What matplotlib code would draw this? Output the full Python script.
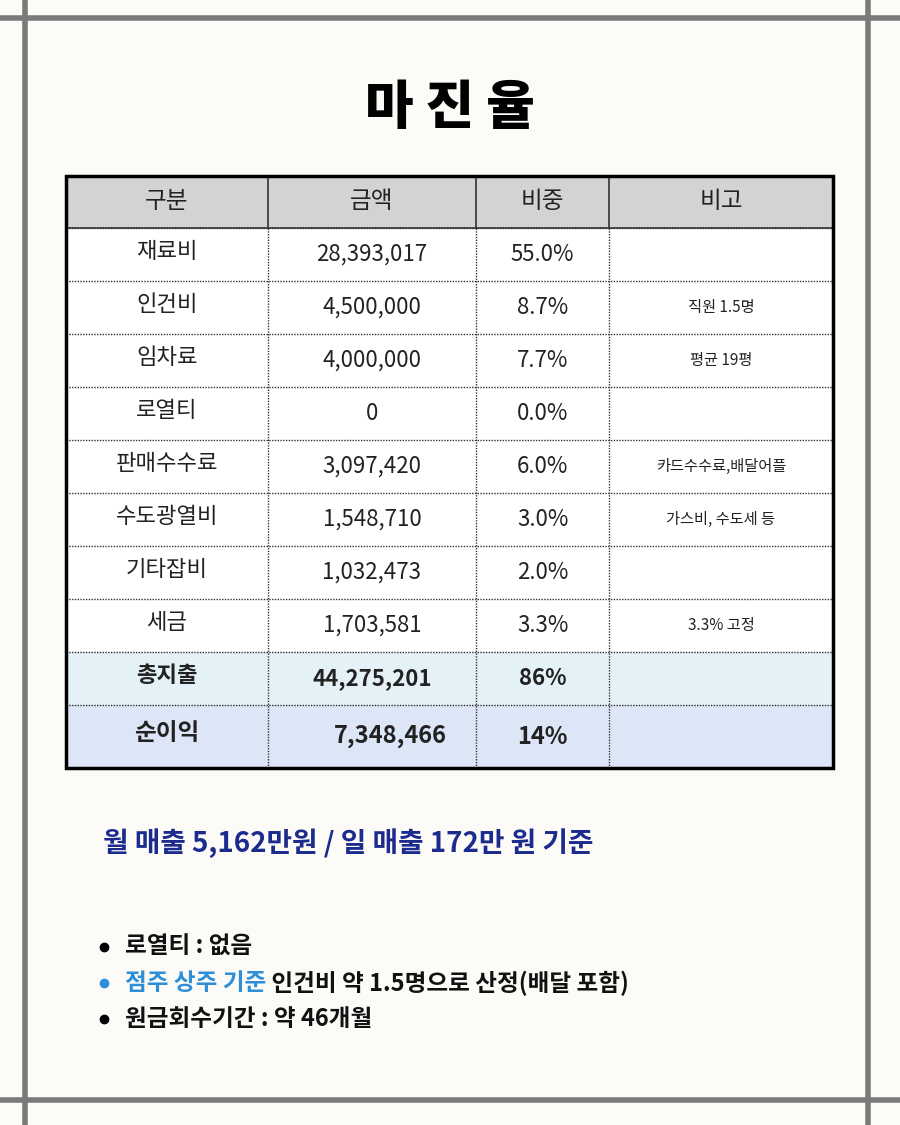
import matplotlib
matplotlib.use("Agg")
import matplotlib.pyplot as plt
from matplotlib.patches import Rectangle
from matplotlib import font_manager

names = {f.name for f in font_manager.fontManager.ttflist}
cands = ["Noto Sans CJK KR", "Noto Sans CJK JP", "Noto Sans CJK SC", "Noto Sans CJK TC"]
fams = [c for c in cands if c in names] + ["DejaVu Sans"]
plt.rcParams["font.family"] = fams

title = "마 진 율"
headers = ["구분", "금액", "비중", "비고"]
categories = ["재료비", "인건비", "임차료", "로열티", "판매수수료", "수도광열비", "기타잡비", "세금", "총지출", "순이익"]
amounts = ["28,393,017", "4,500,000", "4,000,000", "0", "3,097,420", "1,548,710", "1,032,473", "1,703,581", "44,275,201", "7,348,466"]
ratios = ["55.0%", "8.7%", "7.7%", "0.0%", "6.0%", "3.0%", "2.0%", "3.3%", "86%", "14%"]
notes = ["", "직원 1.5명", "평균 19평", "", "카드수수료,배달어플", "가스비, 수도세 등", "", "3.3% 고정", "", ""]
subtitle = "월 매출 5,162만원 / 일 매출 172만 원 기준"
bullets = [("로열티 : 없음", ""), ("점주 상주 기준", " 인건비 약 1.5명으로 산정(배달 포함)"), ("원금회수기간 : 약 46개월", "")]

BG = "#FDFBF7"
fig = plt.figure(figsize=(9, 11.25), dpi=100, facecolor=BG)
ax = fig.add_axes([0, 0, 1, 1])
ax.set_xlim(0, 900); ax.set_ylim(1125, 0); ax.axis("off")
ax.set_facecolor(BG)

for x in (25, 868):
    ax.plot([x, x], [0, 1125], color="#7a7a7a", lw=4)
for y in (18, 1100):
    ax.plot([0, 900], [y, y], color="#7a7a7a", lw=4)

ax.text(450, 108, title, ha="center", va="center", fontsize=38, fontweight="black", color="black")

colx = [66, 268, 476, 609, 833]
rowy = [176, 228] + [228 + 53 * i for i in range(1, 10)] + [768]
fills = ["#D3D3D3"] + ["white"] * 8 + ["#E4F2F8", "#DDE6F6"]
for i in range(len(rowy) - 1):
    ax.add_patch(Rectangle((colx[0], rowy[i]), colx[-1] - colx[0], rowy[i + 1] - rowy[i],
                           facecolor=fills[i], edgecolor="none", zorder=1))
for y in rowy[1:-1]:
    ax.plot([colx[0], colx[-1]], [y, y], color="#333", lw=1, ls=(0, (1, 1)), zorder=2)
ax.plot([colx[0], colx[-1]], [rowy[1], rowy[1]], color="#333", lw=1.2, zorder=2)
for x in colx[1:-1]:
    ax.plot([x, x], [rowy[0], rowy[1]], color="#333", lw=1.2, zorder=2)
    ax.plot([x, x], [rowy[1], rowy[-1]], color="#333", lw=1, ls=(0, (1, 1)), zorder=2)
ax.add_patch(Rectangle((colx[0], rowy[0]), colx[-1] - colx[0], rowy[-1] - rowy[0],
                       facecolor="none", edgecolor="black", lw=2.5, zorder=3))

cx = [(colx[j] + colx[j + 1]) / 2 for j in range(4)]
for j, h in enumerate(headers):
    ax.text(cx[j], (rowy[0] + rowy[1]) / 2, h, ha="center", va="center", fontsize=17, color="#222")
for i in range(len(categories)):
    yc = (rowy[i + 1] + rowy[i + 2]) / 2
    bold = i >= 8
    fw = "bold" if bold else "normal"
    fs = 17 if i == 9 else 16
    ax.text(cx[0], yc - 3, categories[i], ha="center", va="center", fontsize=fs, fontweight=fw, color="#222")
    ax.text(cx[1] + (18 if i == 9 else 0), yc, amounts[i], ha="center", va="center", fontsize=fs, fontweight=fw, color="#222")
    ax.text(cx[2], yc, ratios[i], ha="center", va="center", fontsize=fs, fontweight=fw, color="#222")
    if notes[i]:
        ax.text(cx[3], yc, notes[i], ha="center", va="center", fontsize=11, color="#222")

ax.text(103, 843, subtitle, ha="left", va="center", fontsize=20, fontweight="bold", color="#1B2B8E")

by = [947, 983, 1019]
for (a, b), y in zip(bullets, by):
    blue = bool(b)
    ax.plot(104, y, "o", ms=6, color="#2E8FD8" if blue else "black")
    t = ax.text(125, y, a, ha="left", va="center", fontsize=17, fontweight="bold",
                color="#2E8FD8" if blue else "#111")
    if b:
        fig.canvas.draw()
        bb = t.get_window_extent()
        x0 = ax.transData.inverted().transform((bb.x1, 0))[0]
        ax.text(x0, y, b, ha="left", va="center", fontsize=17, fontweight="bold", color="#111")

fig.savefig("out.png", dpi=100, facecolor=BG)
